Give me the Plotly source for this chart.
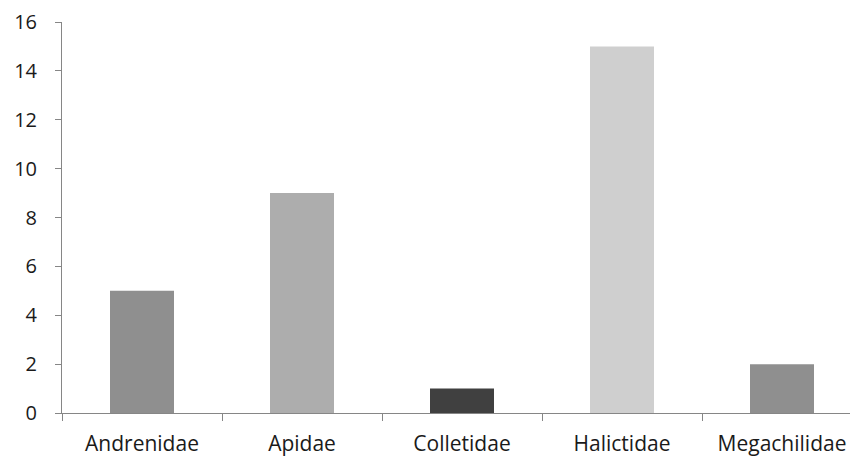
import plotly.graph_objects as go

families = ["Andrenidae", "Apidae", "Colletidae", "Halictidae", "Megachilidae"]
counts = [5, 9, 1, 15, 2]
bar_colors = ["#8f8f8f", "#adadad", "#404040", "#cfcfcf", "#8f8f8f"]
y_ticks = [0, 2, 4, 6, 8, 10, 12, 14, 16]

axis_color = "#868686"
font_family = "Open Sans"

fig = go.Figure(
    go.Bar(
        x=families,
        y=counts,
        width=0.4,
        marker=dict(color=bar_colors, line=dict(width=0)),
    )
)

fig.update_layout(
    width=850,
    height=459,
    margin=dict(l=62, r=0, t=22, b=46),
    paper_bgcolor="white",
    plot_bgcolor="white",
    showlegend=False,
    font=dict(family=font_family, size=20, color="#1a1a1a"),
)

fig.update_xaxes(
    type="category",
    range=[-0.5, 4.425],
    automargin=False,
    showline=True,
    linecolor=axis_color,
    linewidth=1,
    showgrid=False,
    ticks="outside",
    tickson="boundaries",
    ticklen=7,
    tickcolor=axis_color,
    tickfont=dict(size=21),
    ticklabelstandoff=12,
    zeroline=False,
)

fig.update_yaxes(
    range=[0, 16],
    tickvals=y_ticks,
    automargin=False,
    showline=True,
    linecolor=axis_color,
    linewidth=1,
    showgrid=False,
    ticks="outside",
    ticklen=6,
    tickcolor=axis_color,
    tickfont=dict(size=20),
    ticklabelstandoff=14,
    zeroline=False,
)

fig.write_html("out.html")
